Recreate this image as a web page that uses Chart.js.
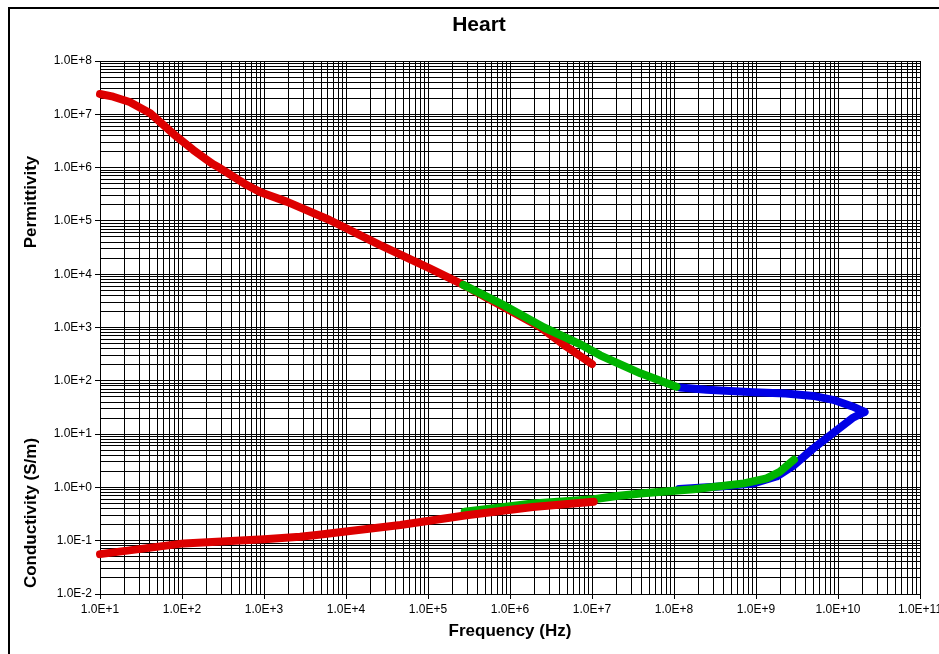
<!DOCTYPE html>
<html>
<head>
<meta charset="utf-8">
<title>Heart</title>
<script src="https://cdn.jsdelivr.net/npm/chart.js@4.4.1/dist/chart.umd.min.js"></script>
<style>
    body { margin: 0; background: #fff; }
    #plot { display: block; }
</style>
</head>
<body>
<canvas id="plot" width="939" height="654"></canvas>
<script>
// tick labels (decades only)
var xDecades = [1e1, 1e2, 1e3, 1e4, 1e5, 1e6, 1e7, 1e8, 1e9, 1e10, 1e11];
var xTickLabels = ["1.0E+1", "1.0E+2", "1.0E+3", "1.0E+4", "1.0E+5", "1.0E+6",
    "1.0E+7", "1.0E+8", "1.0E+9", "1.0E+10", "1.0E+11"];
var yDecades = [1e-2, 1e-1, 1e0, 1e1, 1e2, 1e3, 1e4, 1e5, 1e6, 1e7, 1e8];
var yTickLabels = ["1.0E-2", "1.0E-1", "1.0E+0", "1.0E+1", "1.0E+2", "1.0E+3",
    "1.0E+4", "1.0E+5", "1.0E+6", "1.0E+7", "1.0E+8"];

// permittivity
var redPermFreq = [10, 14.5, 23, 41, 86, 137, 200, 240, 290, 617, 890, 1890, 6300,
    2.57e4, 1.05e5, 2.7e5, 2.3e6, 4.9e6, 1.0e7];
var redPermVals = [2.4e7, 2.14e7, 1.7e7, 1.05e7, 3.8e6, 2.14e6, 1.4e6, 1.15e6, 9.8e5,
    4.7e5, 3.5e5, 2.3e5, 1.04e5, 3.55e4, 1.29e4, 6.3e3, 1035, 436, 207];
var greenPermFreq = [2.7e5, 7.6e5, 2.6e6, 7.1e6, 1.26e7, 3.9e7, 1.07e8];
var greenPermVals = [6300, 2850, 1000, 490, 300, 138, 77];
var bluePermFreq = [1.18e8, 2.5e8, 9.3e8, 2.3e9, 5.0e9, 8.7e9, 1.5e10, 2.1e10];
var bluePermVals = [75, 68, 61, 58, 52, 44, 33, 26];

// conductivity
var redCondFreq = [10, 105, 1000, 2750, 4370, 4.6e4, 2.95e5, 1.9e6, 1.05e7];
var redCondVals = [0.056, 0.089, 0.107, 0.119, 0.128, 0.197, 0.30, 0.43, 0.54];
var greenCondFreq = [2.8e5, 1.9e6, 1.05e7, 2.0e7, 4.2e7, 1.74e8, 7.1e8, 1.35e9, 1.95e9, 2.9e9];
var greenCondVals = [0.35, 0.50, 0.60, 0.69, 0.78, 0.92, 1.19, 1.48, 1.97, 3.3];
var blueCondFreq = [1.15e8, 4e8, 9.1e8, 1.78e9, 2.9e9, 5.0e9, 8.7e9, 1.5e10, 2.1e10];
var blueCondVals = [0.93, 1.05, 1.18, 1.6, 2.6, 5.4, 10.4, 20, 26];

var FONT = "'Liberation Sans', Arial, sans-serif";

function Make_Points(freq, vals) {
    var pts = [];
    for (var i = 0; i < freq.length; i++) {
        pts.push({ x: freq[i], y: vals[i] });
    }
    return pts;
}

function Make_Line(freq, vals, color) {
    return {
        data: Make_Points(freq, vals),
        borderColor: color,
        borderWidth: 8,
        borderCapStyle: "round",
        borderJoinStyle: "round",
        pointRadius: 0,
        tension: 0,
        clip: false,
    };
}

// every decade plus the 2..9 lines in between
function Build_Ticks(decades, labels) {
    var ticks = [];
    for (var i = 0; i < decades.length; i++) {
        ticks.push({ value: decades[i], major: true, lbl: labels[i] });
        if (i < decades.length - 1) {
            for (var m = 2; m <= 9; m++) {
                ticks.push({ value: m * decades[i], lbl: "" });
            }
        }
    }
    return ticks;
}

function Axis_Options(min, max, decades, labels, size, horizontal) {
    return {
        type: "logarithmic",
        min: min,
        max: max,
        afterBuildTicks: function(axis) {
            axis.ticks = Build_Ticks(decades, labels);
        },
        afterFit: function(axis) {
            if (horizontal) axis.height = size; else axis.width = size;
            axis.paddingLeft = 0;
            axis.paddingRight = 0;
            axis.paddingTop = 0;
            axis.paddingBottom = 0;
        },
        border: { color: "#000", width: 1 },
        grid: {
            color: "#000",
            lineWidth: 1,
            tickLength: 5,
            tickColor: function(ctx) {
                return ctx.tick && ctx.tick.lbl ? "#000" : "rgba(0,0,0,0)";
            },
        },
        ticks: {
            autoSkip: false,
            maxRotation: 0,
            padding: horizontal ? 3 : 3,
            color: "#000",
            font: { family: FONT, size: 12 },
            callback: function(value, index, ticks) {
                return ticks[index].lbl;
            },
        },
    };
}

// frame, title and the axis names
var decorations = {
    id: "decorations",
    afterDraw: function(chart) {
        var ctx = chart.ctx;
        ctx.save();
        ctx.fillStyle = "#000";
        ctx.fillRect(8, 7, 2, chart.height);
        ctx.fillRect(8, 7, chart.width, 2);

        ctx.textAlign = "center";
        ctx.textBaseline = "middle";
        ctx.font = "bold 21px " + FONT;
        ctx.fillText("Heart", 479, 25);

        ctx.font = "bold 17px " + FONT;
        ctx.fillText("Frequency (Hz)", 510, 631);

        ctx.translate(31, 202);
        ctx.rotate(-Math.PI / 2);
        ctx.fillText("Permittivity", 0, 0);
        ctx.rotate(Math.PI / 2);
        ctx.translate(0, 311);
        ctx.rotate(-Math.PI / 2);
        ctx.fillText("Conductivity (S/m)", 0, 0);
        ctx.restore();
    },
};

var config = {
    type: "line",
    data: {
        datasets: [
            Make_Line(greenPermFreq, greenPermVals, "#00b400"),
            Make_Line(redPermFreq, redPermVals, "#dd0000"),
            Make_Line(bluePermFreq, bluePermVals, "#0000e6"),
            Make_Line(redCondFreq, redCondVals, "#dd0000"),
            Make_Line(greenCondFreq, greenCondVals, "#00b400"),
            Make_Line(blueCondFreq, blueCondVals, "#0000e6"),
        ],
    },
    options: {
        responsive: false,
        animation: false,
        devicePixelRatio: 1,
        layout: { padding: { left: 0, top: 61, right: 19, bottom: 0 } },
        plugins: {
            legend: { display: false },
            tooltip: { enabled: false },
        },
        scales: {
            x: Axis_Options(1e1, 1e11, xDecades, xTickLabels, 60, true),
            y: Axis_Options(1e-2, 1e8, yDecades, yTickLabels, 100, false),
        },
    },
    plugins: [decorations],
};

window.onload = function() {
    var canvas = document.getElementById("plot").getContext("2d");
    new Chart(canvas, config);
};
</script>
</body>
</html>
